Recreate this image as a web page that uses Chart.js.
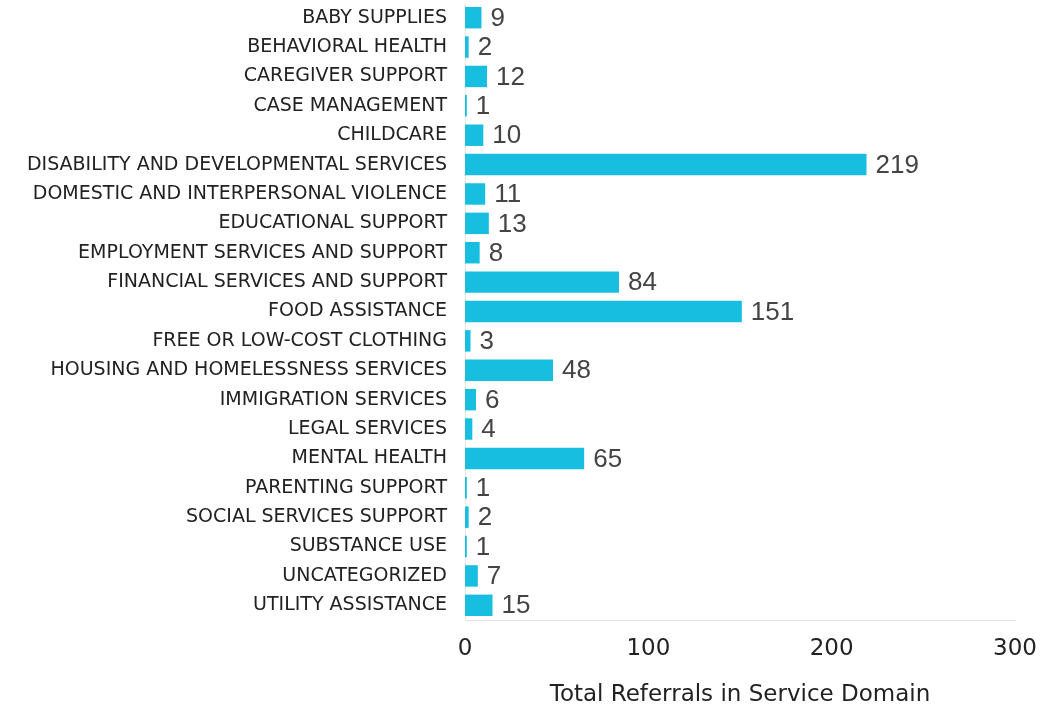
<!DOCTYPE html>
<html>
<head>
<meta charset="utf-8">
<script src="https://cdn.jsdelivr.net/npm/chart.js@4/dist/chart.umd.min.js"></script>
<style>
  html, body { margin: 0; padding: 0; background: #fff; }
  #wrap { width: 1064px; height: 707px; }
</style>
</head>
<body>
<div id="wrap"><canvas id="chart"></canvas></div>
<script>
const categories = [
  "BABY SUPPLIES",
  "BEHAVIORAL HEALTH",
  "CAREGIVER SUPPORT",
  "CASE MANAGEMENT",
  "CHILDCARE",
  "DISABILITY AND DEVELOPMENTAL SERVICES",
  "DOMESTIC AND INTERPERSONAL VIOLENCE",
  "EDUCATIONAL SUPPORT",
  "EMPLOYMENT SERVICES AND SUPPORT",
  "FINANCIAL SERVICES AND SUPPORT",
  "FOOD ASSISTANCE",
  "FREE OR LOW-COST CLOTHING",
  "HOUSING AND HOMELESSNESS SERVICES",
  "IMMIGRATION SERVICES",
  "LEGAL SERVICES",
  "MENTAL HEALTH",
  "PARENTING SUPPORT",
  "SOCIAL SERVICES SUPPORT",
  "SUBSTANCE USE",
  "UNCATEGORIZED",
  "UTILITY ASSISTANCE"
]
const referrals = [9, 2, 12, 1, 10, 219, 11, 13, 8, 84, 151, 3, 48, 6, 4, 65, 1, 2, 1, 7, 15]
const xTicks = [0, 100, 200, 300]
const axisTitle = "Total Referrals in Service Domain"

// values printed at the end of each bar
const valueLabels = {
  id: 'valueLabels',
  afterDatasetsDraw(chart) {
    let ctx = chart.ctx
    let meta = chart.getDatasetMeta(0)
    ctx.save()
    ctx.font = '26px "Liberation Sans", Arial, sans-serif'
    ctx.fillStyle = '#444'
    ctx.textAlign = 'left'
    ctx.textBaseline = 'middle'
    meta.data.forEach((bar, i) => {
      ctx.fillText(String(referrals[i]), bar.x + 9, bar.y + 1)
    })
    ctx.restore()
  }
}

let ctx = document.getElementById('chart').getContext('2d')
let myChart = new Chart(ctx, {
  type: 'bar',
  data: {
    labels: categories,
    datasets: [{
      data: referrals,
      backgroundColor: '#17bee0',
      borderWidth: 0,
      barPercentage: 0.73,
      categoryPercentage: 1
    }]
  },
  options: {
    indexAxis: 'y',
    responsive: true,
    maintainAspectRatio: false,
    animation: false,
    layout: { padding: { top: 3, right: 49, bottom: 0, left: 0 } },
    plugins: {
      legend: { display: false },
      tooltip: { enabled: false }
    },
    scales: {
      x: {
        min: 0,
        max: 300,
        afterBuildTicks: (scale) => {
          scale.ticks = xTicks.map(v => ({ value: v }))
        },
        afterFit: (scale) => { scale.height = 87 },
        grid: { display: false, drawTicks: false },
        border: { display: true, color: '#e3e3e3', width: 1 },
        ticks: {
          padding: 15,
          color: '#222',
          font: { family: '"DejaVu Sans", Verdana, sans-serif', size: 23 }
        },
        title: {
          display: true,
          text: axisTitle,
          color: '#222',
          padding: { top: 4, bottom: -2 },
          font: { family: '"DejaVu Sans", Verdana, sans-serif', size: 23 }
        }
      },
      y: {
        afterFit: (scale) => {
          scale.width = 465
          scale.paddingTop = 0
          scale.paddingBottom = 0
        },
        grid: { display: false, drawTicks: false },
        border: { display: true, color: '#e8e8e8', width: 1 },
        ticks: {
          padding: 18,
          color: '#222',
          autoSkip: false,
          font: { family: '"DejaVu Sans", Verdana, sans-serif', size: 19 }
        }
      }
    }
  },
  plugins: [valueLabels]
})
</script>
</body>
</html>
